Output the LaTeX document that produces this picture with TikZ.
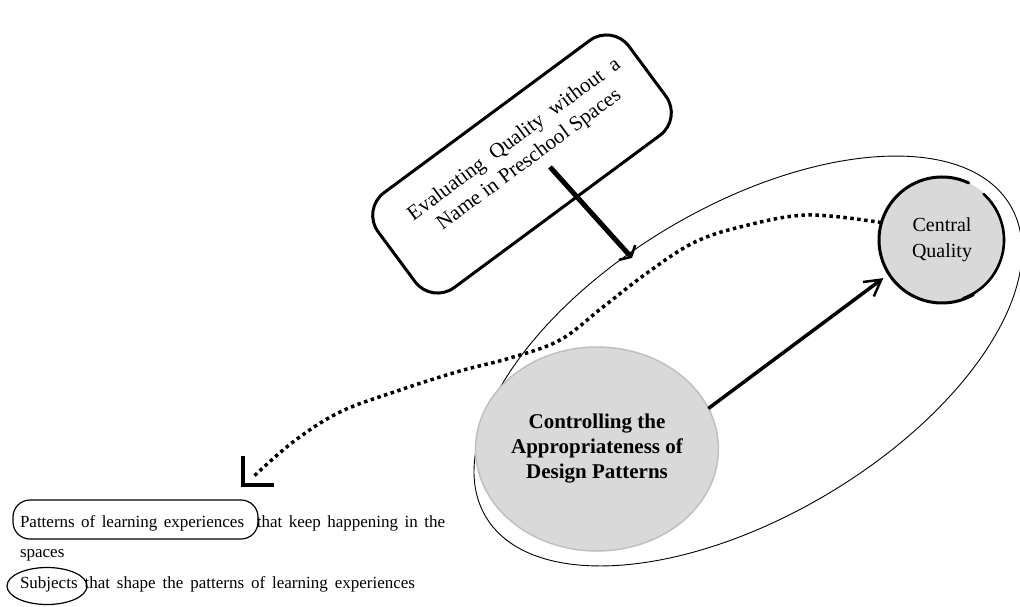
\documentclass[tikz,border=0pt]{standalone}
\usepackage{fontspec}
\setmainfont{Liberation Serif}
\usetikzlibrary{shapes.geometric,arrows.meta,calc}
\definecolor{fillgray}{RGB}{217,217,217}
\definecolor{edgegray}{RGB}{192,192,192}
\begin{document}
\begin{tikzpicture}[x=1pt,y=1pt,
  every node/.style={inner sep=0pt,outer sep=0pt},
  outerzone/.style={draw,ellipse,line width=0.9pt,minimum width=610pt,minimum height=310pt},
  bigbubble/.style={ellipse,fill=fillgray,draw=edgegray,line width=1.5pt,minimum width=220pt,minimum height=204pt,
    align=center,font=\fontsize{21}{25}\selectfont\bfseries},
  corebubble/.style={circle,fill=fillgray,minimum size=126pt,align=center,font=\fontsize{20}{26}\selectfont},
  sketchline/.style={line width=3pt,line cap=round},
  titlebox/.style={draw,line width=3pt,rounded corners=28pt,minimum width=312pt,minimum height=118pt},
  titletext/.style={align=center,font=\fontsize{21}{25}\selectfont},
  heavyarrow/.style={line width=5pt,-{Straight Barb[length=6pt,width=22pt,line width=2.5pt]}},
  linkarrow/.style={line width=3.5pt,-{Straight Barb[length=16pt,width=18pt,line width=2.5pt]}},
  dotline/.style={line width=3.5pt,dash pattern=on 3.5pt off 3.5pt},
  bodytext/.style={anchor=base west,font=\fontsize{17}{20}\selectfont},
  ring/.style={draw,line width=1.2pt}]
\fill[white] (0,0) rectangle (1020,-606);
\useasboundingbox (0,0) rectangle (1020,-606);

% enclosing zone
\node[outerzone,rotate=30.7] (zone) at (748,-361) {};

% main bubbles
\node[bigbubble] (cp) at (597,-449) {Controlling the\\Appropriateness of\\Design Patterns};
\node[corebubble] (cq) at (942,-240) {Central\\Quality};
\draw[sketchline] ($(cq.center)+(65:63)$) arc[start angle=65,end angle=300,radius=63pt];
\draw[sketchline,line width=2.6pt] ($(cq.center)+(-70:62)$) arc[start angle=-70,end angle=48,radius=62pt];

% title box
\node[titlebox,rotate=36.5] (eval) at (522,-164) {};
\node[titletext,rotate=36.5] (evaltext) at (522,-150) {Evaluating\ \ Quality\ \ without\ \ a\\Name in Preschool Spaces};

% arrow from the title into the zone
\coordinate (evaltail) at (550,-167);
\coordinate (evalhead) at (632,-258);
\draw[heavyarrow] (evaltail) -- (evalhead);

% arrow from design patterns to central quality
\draw[linkarrow] (cp.20) -- ($(cq.center)+(213:70)$);

% dotted link back to the learning experiences
\coordinate (dotstart) at (cq.164);
\coordinate (corner) at (243,-485);
\coordinate (dotend) at (252,-478);
\draw[dotline] plot[smooth,tension=0.6] coordinates {(dotstart) (807,-215) (740,-227) (693,-243) (647,-273) (603,-307) (560,-340) (510,-358) (460,-371) (400,-390) (340,-412) (293,-442) (dotend)};
\draw[line width=4pt] ($(corner)+(0,29)$) -- (corner) -- ($(corner)+(31,0)$);

% explanatory lines
\node[bodytext] (line1) at (20,-527) {\makebox[425pt][s]{Patterns of learning experiences \ that keep happening in the}};
\node[bodytext] (line2) at (20,-557) {spaces};
\node[bodytext] (line3) at (20,-588) {\makebox[395pt][s]{Subjects that shape the patterns of learning experiences}};
\node[ring,rounded corners=17pt,minimum width=245pt,minimum height=39pt] (ring1) at (135.5,-519.5) {};
\node[ring,ellipse,minimum width=80pt,minimum height=37pt] (ring2) at (47,-586) {};
\end{tikzpicture}
\end{document}
